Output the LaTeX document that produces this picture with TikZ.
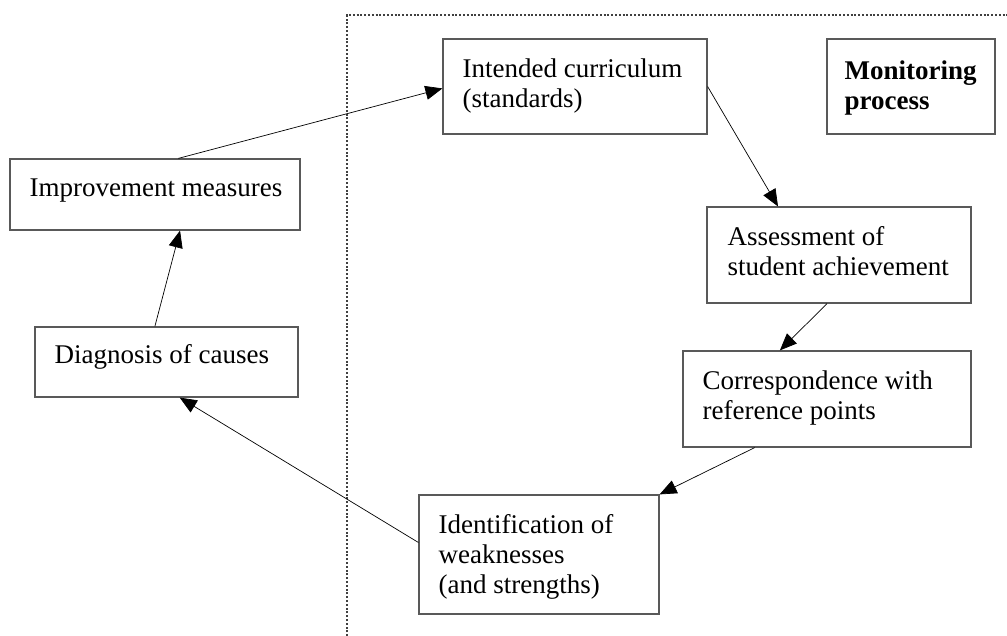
\documentclass[tikz,border=0pt]{standalone}
\usepackage{fontspec}
\setmainfont{Liberation Serif}
\usetikzlibrary{arrows.meta,calc}
\tikzset{
  box/.style={draw=black!65, line width=1.2pt, rectangle, inner sep=0pt},
  lbl/.style={anchor=base west, inner sep=0pt, align=left, font=\fontsize{27}{30}\selectfont},
  conn/.style={draw=black, line width=0.7pt, -{Triangle[length=17pt,width=14pt]}},
  region/.style={draw=black!75, line width=1.1pt, dash pattern=on 2pt off 1.8pt},
}
\begin{document}
\begin{tikzpicture}[x=1pt,y=-1pt]
\useasboundingbox (0,0) rectangle (1007,635);
% monitoring region
\coordinate (rb) at (347,640);
\coordinate (rc) at (347,15);
\coordinate (rr) at (1010,15);
\draw[region] (rb) -- (rc) -- (rr);
% boxes
\node[box, minimum width=264pt, minimum height=95pt] (ic) at (575,86.5) {};
\node[box, minimum width=168pt, minimum height=95pt] (mp) at (911,86.5) {};
\node[box, minimum width=290pt, minimum height=71pt] (im) at (155,194.5) {};
\node[box, minimum width=263pt, minimum height=70pt] (dc) at (166.5,362) {};
\node[box, minimum width=264pt, minimum height=96pt] (as) at (839,255) {};
\node[box, minimum width=288pt, minimum height=96pt] (co) at (827,399) {};
\node[box, minimum width=240pt, minimum height=119pt] (id) at (539,554.5) {};
% labels (base = baseline of last line)
\node[lbl] (tic) at ($(ic.north west)+(20,69)$) {Intended curriculum\\(standards)};
\node[lbl, font=\fontsize{27}{30}\selectfont\bfseries] (tmp) at ($(mp.north west)+(18,71)$) {Monitoring\\process};
\node[lbl] (tim) at ($(im.north west)+(20,38)$) {Improvement measures};
\node[lbl] (tdc) at ($(dc.north west)+(20,37)$) {Diagnosis of causes};
\node[lbl] (tas) at ($(as.north west)+(21,69)$) {Assessment of\\student achievement};
\node[lbl] (tco) at ($(co.north west)+(20,69)$) {Correspondence with\\reference points};
\node[lbl] (tid) at ($(id.north west)+(20,99)$) {Identification of\\weaknesses\\(and strengths)};
% connectors
\draw[conn] ($(im.north west)!0.58!(im.north east)$) -- ($(ic.north west)!0.52!(ic.south west)$);
\draw[conn] (ic.east) -- ($(as.north west)!0.27!(as.north east)$);
\draw[conn] ($(as.south west)!0.455!(as.south east)$) -- ($(co.north west)!0.337!(co.north east)$);
\draw[conn] ($(co.south west)!0.25!(co.south east)$) -- (id.north east);
\draw[conn] ($(id.north west)!0.40!(id.south west)$) -- ($(dc.south west)!0.55!(dc.south east)$);
\draw[conn] ($(dc.north west)!0.456!(dc.north east)$) -- ($(im.south west)!0.586!(im.south east)$);
\end{tikzpicture}
\end{document}
